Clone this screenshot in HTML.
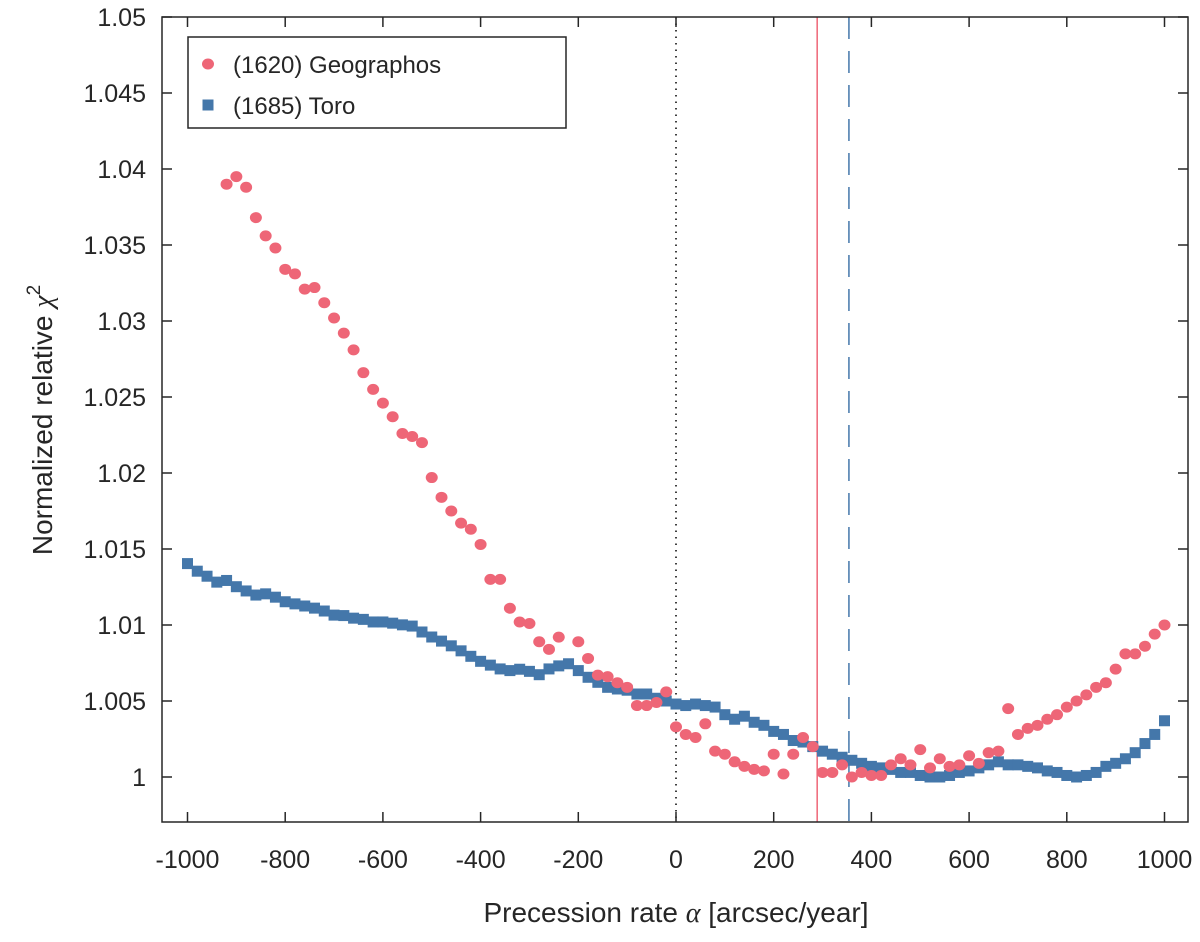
<!DOCTYPE html>
<html><head><meta charset="utf-8"><style>
body{margin:0;background:#fff;}
svg text{font-family:"Liberation Sans",sans-serif;fill:#262626;}
</style></head><body>
<svg id="chart" width="1200" height="937" xmlns="http://www.w3.org/2000/svg">
<g id="plot"></g>
</svg>
<script>
const geoX = [-920,-900,-880,-860,-840,-820,-800,-780,-760,-740,-720,-700,-680,-660,-640,-620,-600,-580,-560,-540,-520,-500,-480,-460,-440,-420,-400,-380,-360,-340,-320,-300,-280,-260,-240,-200,-180,-160,-140,-120,-100,-80,-60,-40,-20,0,20,40,60,80,100,120,140,160,180,200,220,240,260,280,300,320,340,360,380,400,420,440,460,480,500,520,540,560,580,600,620,640,660,680,700,720,740,760,780,800,820,840,860,880,900,920,940,960,980,1000];
const geoY = [1.0390,1.0395,1.0388,1.0368,1.0356,1.0348,1.0334,1.0331,1.0321,1.0322,1.0312,1.0302,1.0292,1.0281,1.0266,1.0255,1.0246,1.0237,1.0226,1.0224,1.0220,1.0197,1.0184,1.0175,1.0167,1.0163,1.0153,1.0130,1.0130,1.0111,1.0102,1.0101,1.0089,1.0084,1.0092,1.0089,1.0078,1.0067,1.0066,1.0062,1.0059,1.0047,1.0047,1.0049,1.0056,1.0033,1.0028,1.0026,1.0035,1.0017,1.0015,1.0010,1.0007,1.0005,1.0004,1.0015,1.0002,1.0015,1.0026,1.0020,1.0003,1.0003,1.0008,1.0000,1.0003,1.0001,1.0001,1.0008,1.0012,1.0008,1.0018,1.0006,1.0012,1.0007,1.0008,1.0014,1.0009,1.0016,1.0017,1.0045,1.0028,1.0032,1.0034,1.0038,1.0041,1.0046,1.0050,1.0054,1.0059,1.0062,1.0071,1.0081,1.0081,1.0086,1.0094,1.0100];
const toroX = [-1000,-980,-960,-940,-920,-900,-880,-860,-840,-820,-800,-780,-760,-740,-720,-700,-680,-660,-640,-620,-600,-580,-560,-540,-520,-500,-480,-460,-440,-420,-400,-380,-360,-340,-320,-300,-280,-260,-240,-220,-200,-180,-160,-140,-120,-100,-80,-60,-40,-20,0,20,40,60,80,100,120,140,160,180,200,220,240,260,280,300,320,340,360,380,400,420,440,460,480,500,520,540,560,580,600,620,640,660,680,700,720,740,760,780,800,820,840,860,880,900,920,940,960,980,1000];
const toroY = [1.01404,1.01354,1.01321,1.01282,1.01293,1.01252,1.01224,1.01197,1.01205,1.01183,1.01153,1.01139,1.01125,1.01111,1.01092,1.01065,1.01062,1.01045,1.01037,1.0102,1.0102,1.01012,1.01001,1.00993,1.00954,1.00921,1.00894,1.00863,1.0083,1.00794,1.00761,1.00736,1.00711,1.007,1.00709,1.00695,1.00673,1.00711,1.00731,1.00745,1.007,1.00656,1.00623,1.0059,1.00579,1.00571,1.00546,1.00546,1.00518,1.005,1.0048,1.0047,1.0048,1.0047,1.0046,1.0041,1.0038,1.0040,1.0036,1.0034,1.0030,1.0028,1.0024,1.0023,1.0020,1.0017,1.0015,1.0013,1.0011,1.0009,1.0007,1.0006,1.0005,1.0003,1.0003,1.0001,1.0000,1.0000,1.0001,1.0003,1.0004,1.0006,1.0008,1.0010,1.0008,1.0008,1.0007,1.0006,1.0004,1.0003,1.0001,1.0000,1.0001,1.0003,1.0007,1.0009,1.0012,1.0016,1.0022,1.0028,1.0037];
const xTicks = [-1000,-800,-600,-400,-200,0,200,400,600,800,1000];
const yTicks = [1,1.005,1.01,1.015,1.02,1.025,1.03,1.035,1.04,1.045,1.05];
const yTickLabels = ["1","1.005","1.01","1.015","1.02","1.025","1.03","1.035","1.04","1.045","1.05"];
const geoLine = 289, toroLine = 354;

const L=162,R=1188,T=17,B=822;
const sx = a => 676 + a*0.4885;
const sy = v => 777 - (v-1)*15200;
const NS="http://www.w3.org/2000/svg";
const svg=document.getElementById('chart');
function mk(tag,attrs,parent){const e=document.createElementNS(NS,tag);for(const k in attrs)e.setAttribute(k,attrs[k]);(parent||svg).appendChild(e);return e;}

let l=mk('line',{x1:sx(0),x2:sx(0),y1:T,y2:B,stroke:'#000','stroke-width':1.5,'stroke-dasharray':'1.5 5'});


l=mk('line',{x1:sx(geoLine),x2:sx(geoLine),y1:T,y2:B,stroke:'#ee6677','stroke-width':1.5});


l=mk('line',{x1:sx(toroLine),x2:sx(toroLine),y1:T,y2:B,stroke:'#4477aa','stroke-width':1.5,'stroke-dasharray':'22 12'});



toroX.forEach((a,i)=>{
  const r=mk('rect',{x:sx(a)-5.5,y:sy(toroY[i])-5.5,width:11,height:11,fill:'#4477aa'});
  
  
});
geoX.forEach((a,i)=>{
  const c=mk('ellipse',{cx:sx(a),cy:sy(geoY[i]),rx:6,ry:5.5,fill:'#ee6677'});
  
  
});

const box=mk('rect',{x:L,y:T,width:R-L,height:B-T,fill:'none',stroke:'#262626','stroke-width':1.5});



xTicks.forEach(a=>{
  const x=sx(a);
  mk('line',{x1:x,x2:x,y1:B,y2:B-10,stroke:'#262626','stroke-width':1.5});
  mk('line',{x1:x,x2:x,y1:T,y2:T+10,stroke:'#262626','stroke-width':1.5});
  const t=mk('text',{x:x,y:868,'font-size':25,'text-anchor':'middle'});
  t.textContent=a;
  
  
});
yTicks.forEach((v,i)=>{
  const y=sy(v);
  mk('line',{x1:L,x2:L+10,y1:y,y2:y,stroke:'#262626','stroke-width':1.5});
  mk('line',{x1:R,x2:R-10,y1:y,y2:y,stroke:'#262626','stroke-width':1.5});
  const t=mk('text',{x:146,y:y+9,'font-size':25,'text-anchor':'end'});
  t.textContent=yTickLabels[i];
  
  
});
</script>
<svg style="position:absolute;left:0;top:0" width="1200" height="937" xmlns="http://www.w3.org/2000/svg">
<text x="676" y="922" font-size="28" text-anchor="middle" style="font-family:'Liberation Sans',sans-serif;fill:#262626">Precession rate  <tspan font-family="Liberation Serif" font-style="italic">α</tspan> [arcsec/year]</text>
<text transform="translate(52,420) rotate(-90)" font-size="28" text-anchor="middle" style="font-family:'Liberation Sans',sans-serif;fill:#262626">Normalized relative   <tspan font-family="Liberation Serif" font-style="italic">χ</tspan><tspan font-size="19" dy="-12">2</tspan></text>
<g>
<rect x="188" y="37" width="378" height="91" fill="#fff" stroke="#262626" stroke-width="1.5"/>
<ellipse cx="208" cy="64" rx="6" ry="5.5" fill="#ee6677"/>
<text x="233" y="73" font-size="24" style="font-family:'Liberation Sans',sans-serif;fill:#262626">(1620) Geographos</text>
<rect x="202.5" y="99.5" width="11" height="11" fill="#4477aa"/>
<text x="233" y="114" font-size="24" style="font-family:'Liberation Sans',sans-serif;fill:#262626">(1685) Toro</text>
</g>
</svg>
</body></html>
